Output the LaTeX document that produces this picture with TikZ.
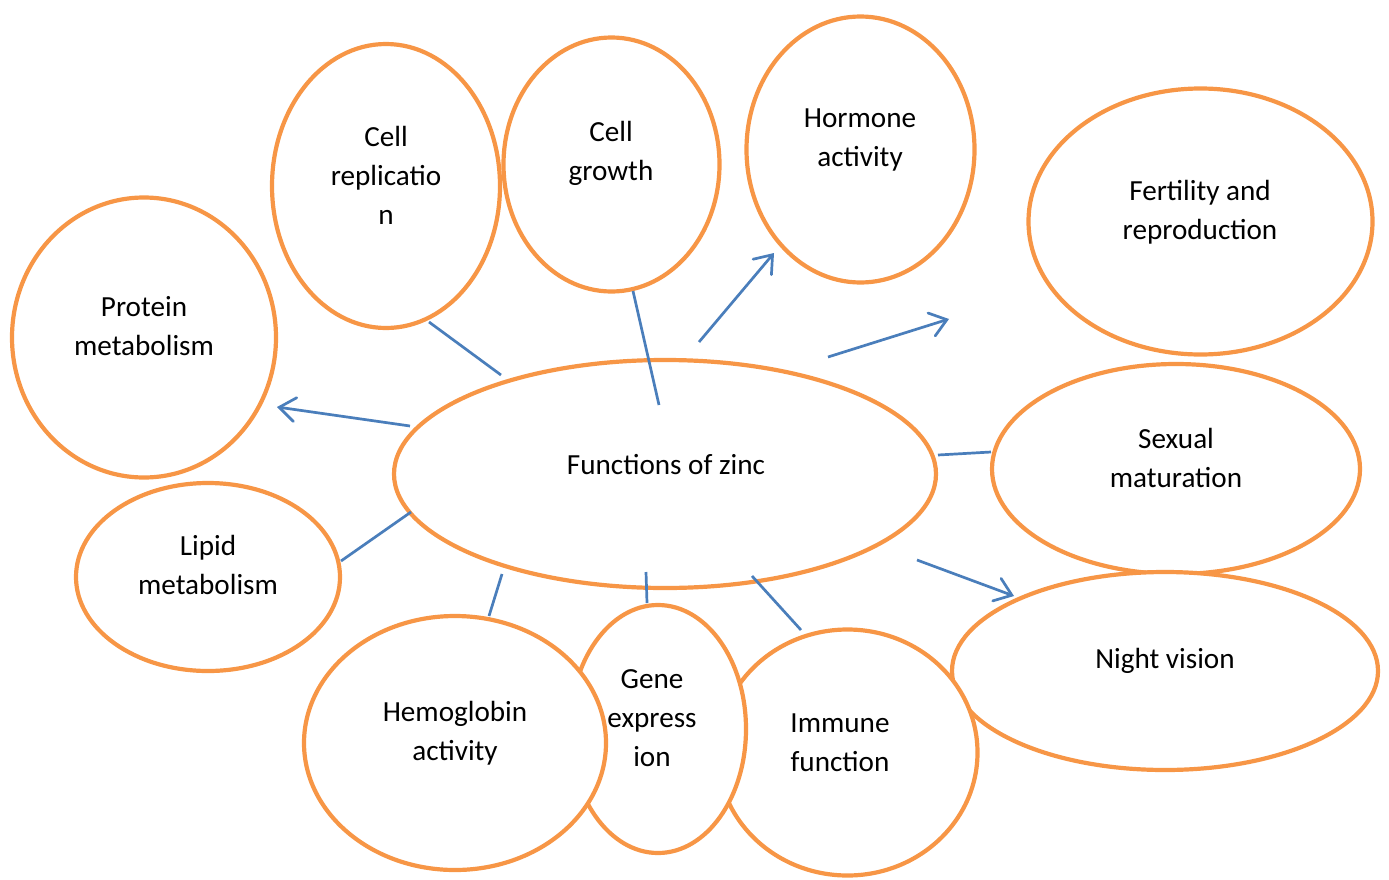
\documentclass[tikz,border=0pt]{standalone}
\usepackage{fontspec}
\setmainfont{Carlito}
\usetikzlibrary{shapes.geometric,arrows.meta}
\definecolor{zorange}{HTML}{F79646}
\definecolor{zblue}{HTML}{4A7EBB}
\newdimen\px \px=0.02cm
\tikzset{
  bub/.style={ellipse, draw=zorange, fill=white, line width=4.2\px, inner sep=0pt},
  lbl/.style={align=center, inner sep=0pt, font=\fontsize{16.6}{22.2}\selectfont},
  link/.style={draw=zblue, line width=2.7\px},
  arr/.style={link, -{Straight Barb[length=0.32cm, width=0.48cm, line cap=round]}}
}
\begin{document}
\begin{tikzpicture}[x=0.02cm, y=-0.02cm]
\useasboundingbox (0,0) rectangle (1389,879);
% ellipses
\node[bub, minimum width=264\px, minimum height=280\px] (protein) at (144,337.5) {};
\node[bub, minimum width=264\px, minimum height=188\px] (lipid) at (208,577) {};
\node[bub, minimum width=228\px, minimum height=284\px] (cellrep) at (386,186) {};
\node[bub, minimum width=216\px, minimum height=254\px] (cellgrowth) at (611.5,164.5) {};
\node[bub, minimum width=228\px, minimum height=266\px] (hormone) at (860.5,149.5) {};
\node[bub, minimum width=344\px, minimum height=266\px] (fertility) at (1200.5,221.5) {};
\node[bub, minimum width=368\px, minimum height=210\px] (sexual) at (1176,469) {};
\node[bub, minimum width=426\px, minimum height=198\px] (night) at (1165,671) {};
\node[bub, minimum width=260\px, minimum height=246\px] (immune) at (847.5,752.5) {};
\node[bub, minimum width=176\px, minimum height=248\px] (gene) at (658,729) {};
\node[bub, minimum width=302\px, minimum height=254\px] (hemo) at (455,743) {};
\node[bub, minimum width=542\px, minimum height=228\px] (zinc) at (665,474) {};
% labels
\node[lbl] (tzinc) at (666,465) {Functions of zinc};
\node[lbl] (tprotein) at (144,326) {Protein\\metabolism};
\node[lbl] (tcellrep) at (386,175) {Cell\\replicatio\\n};
\node[lbl] (tcellgrowth) at (611,153) {Cell\\growth};
\node[lbl] (thormone) at (860,140) {Hormone\\activity};
\node[lbl] (tfertility) at (1200,212) {Fertility and\\reproduction};
\node[lbl] (tsexual) at (1176,458) {Sexual\\maturation};
\node[lbl] (tnight) at (1165,661) {Night vision};
\node[lbl] (timmune) at (840,743) {Immune\\function};
\node[lbl] (tgene) at (652,718) {Gene\\express\\ion};
\node[lbl] (themo) at (455,733) {Hemoglobin\\activity};
\node[lbl] (tlipid) at (208,565) {Lipid\\metabolism};
% connector end points
\coordinate (a1) at (501,375); \coordinate (b1) at (429,322);
\coordinate (a2) at (659,405); \coordinate (b2) at (633,291);
\coordinate (a3) at (699,342); \coordinate (b3) at (774,253);
\coordinate (a4) at (828,357); \coordinate (b4) at (949,319);
\coordinate (a5) at (410,426); \coordinate (b5) at (277,407);
\coordinate (a6) at (411,512); \coordinate (b6) at (341,561);
\coordinate (a7) at (938,455); \coordinate (b7) at (991,452);
\coordinate (a8) at (917,560); \coordinate (b8) at (1014,596);
\coordinate (a9) at (502,574); \coordinate (b9) at (489,616);
\coordinate (a10) at (646,572); \coordinate (b10) at (647,603);
\coordinate (a11) at (752,576); \coordinate (b11) at (801,630);
% connectors
\draw[link] (a1) -- (b1);
\draw[link] (a2) -- (b2);
\draw[arr] (a3) -- (b3);
\draw[arr] (a4) -- (b4);
\draw[arr] (a5) -- (b5);
\draw[link] (a6) -- (b6);
\draw[link] (a7) -- (b7);
\draw[arr] (a8) -- (b8);
\draw[link] (a9) -- (b9);
\draw[link] (a10) -- (b10);
\draw[link] (a11) -- (b11);
\end{tikzpicture}
\end{document}
